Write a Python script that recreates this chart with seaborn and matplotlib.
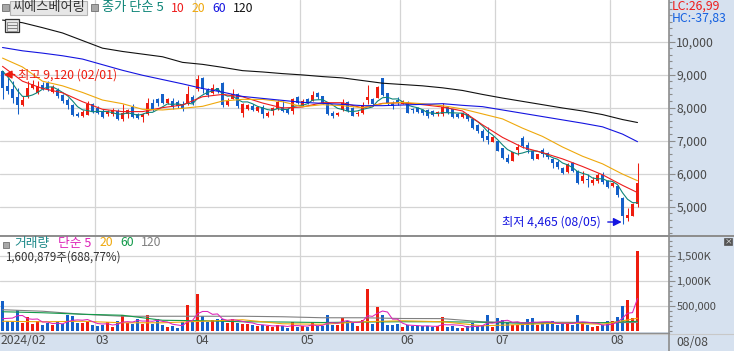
import numpy as np
import pandas as pd
import matplotlib
matplotlib.use("Agg")
import matplotlib.pyplot as plt
from matplotlib.patches import Rectangle
from matplotlib.ticker import FixedLocator, MultipleLocator, FuncFormatter
from matplotlib.transforms import ScaledTranslation
import seaborn as sns

sns.set_theme(style="white")
plt.rcParams['font.family'] = ['Noto Sans CJK KR', 'DejaVu Sans']

open_ = [9100,8670,8550,8330,8090,8350,8600,8430,8700,8750,8470,8530,8370,8230,8080,7820,7750,7780,8100,8000,
         7900,7800,7800,7900,7650,7800,8030,7800,7730,7800,8130,8250,8400,8130,8200,8170,8100,8100,8330,8550,
         8900,8530,8450,8600,8750,8070,8250,8420,7830,7950,8050,7900,8020,7750,7900,7950,8030,7950,7900,8330,
         8080,8270,8200,8440,8350,8150,7850,7770,7930,8170,8000,7820,7830,8230,8250,8300,8900,8430,8150,8230,
         8100,8170,7970,8000,7920,7920,7900,7800,7820,8030,7950,7820,7730,7800,7670,7490,7300,7150,6970,7000,
         6770,6480,6400,6720,7070,6880,6700,6460,6720,6620,6460,6360,6170,6060,6320,6090,5780,5840,5710,5790,
         5960,5790,5640,5640,5280,4660,4730,5080]
close = [8600,8500,8300,8070,8230,8600,8720,8670,8570,8550,8630,8350,8200,8070,7780,7750,7870,8100,7870,7850,
         7730,7870,7920,7650,7850,7920,7730,7700,7800,8130,7930,8130,8130,8250,8030,8050,7950,8400,8130,8870,
         8550,8370,8600,8500,8070,8200,8420,8050,8120,8080,7920,8030,7820,7850,7980,8170,7900,7840,8270,8130,
         8210,8150,8370,8330,8150,7820,7750,7850,8150,7900,7760,7850,8080,8320,8100,8630,8370,8150,8050,8130,
         8200,7850,7930,7880,7840,7750,7770,7870,8020,7830,7730,7730,7850,7650,7390,7280,7070,7030,7100,6700,
         6470,6360,6650,6810,6850,6710,6440,6590,6590,6500,6320,6200,6020,6310,6090,5720,5920,5810,5820,5960,
         5740,5590,5720,5350,4730,4750,5080,5710]
high = [9120,8900,8800,8600,8350,8800,8850,8800,8780,8800,8700,8600,8420,8280,8100,7870,7920,8200,8130,8050,
        7950,7920,7980,7950,8100,7970,8100,7850,7850,8300,8250,8300,8420,8300,8300,8220,8200,8650,8380,9000,
        8920,8580,8720,8560,8780,8280,8550,8440,8140,8120,8100,8050,8070,7890,8020,8230,8200,7990,8290,8350,
        8270,8290,8490,8470,8360,8170,7900,7870,8250,8210,8020,7900,8160,8700,8290,8640,8900,8450,8190,8330,
        8240,8200,8000,8030,7970,7950,7930,7890,8130,8050,7970,7840,7880,7820,7700,7500,7350,7420,7130,7020,
        6790,6600,6670,6900,7130,6970,6720,6600,6770,6670,6480,6420,6190,6330,6350,6110,6090,5990,5890,6020,
        6040,5800,5760,5660,5290,4950,5110,6320]
low = [8250,8400,8150,7800,8050,8300,8550,8400,8520,8500,8430,8300,8150,7950,7750,7720,7730,7770,7850,7800,
       7700,7750,7750,7620,7600,7700,7700,7650,7570,7780,7900,8050,8100,8100,7950,8000,7900,8070,8080,8500,
       8450,8320,8400,8450,8030,8050,8250,8000,7720,7920,7890,7870,7680,7720,7780,7920,7870,7820,7820,8100,
       8060,8120,8190,8250,8100,7790,7680,7740,7900,7880,7740,7750,7810,8100,8040,8280,8350,8090,7950,8080,
       8100,7830,7830,7850,7770,7700,7740,7740,7750,7800,7700,7700,7700,7600,7350,7240,7000,6900,6960,6680,
       6450,6340,6390,6570,6770,6630,6420,6450,6520,6440,6170,6130,6000,6030,6040,5680,5720,5610,5660,5720,
       5690,5560,5590,5310,4465,4580,4720,4980]

ma_idx = [0,4,8,12,16,20,24,28,32,36,40,44,48,52,56,60,64,68,72,76,80,84,88,92,96,100,104,108,112,116,120,124,127]
ma10 = [9250,8800,8580,8450,8180,7950,7880,7880,8000,8080,8330,8400,8330,8140,7990,8020,8150,8150,7990,8130,8150,8090,8020,7900,7480,7100,6800,6640,6450,6220,5970,5650,5430]
ma20 = [9500,9230,8800,8660,8460,8230,8120,7950,7930,7980,8040,8200,8250,8250,8180,8030,8090,8060,8000,8120,8160,8120,8060,7960,7810,7660,7380,7130,6810,6530,6300,5990,5790]
ma60 = [9820,9720,9650,9570,9470,9300,9130,8980,8850,8720,8580,8470,8340,8280,8220,8160,8130,8100,8060,8060,8080,8100,8120,8070,8030,7930,7830,7730,7630,7530,7420,7200,6970]
ma120 = [10650,10570,10420,10260,10030,9800,9700,9620,9540,9370,9310,9220,9120,9080,9030,8990,8940,8900,8820,8740,8700,8660,8600,8520,8400,8290,8190,8090,7990,7900,7790,7640,7550]
price_head = [9350,9300,9200,9100]

volume = [600,200,187,420,167,280,147,213,120,167,120,187,147,333,300,167,160,213,133,100,
          120,187,87,200,320,167,147,240,147,320,147,253,120,87,100,67,187,520,213,750,
          307,187,233,253,253,167,253,167,147,147,120,100,133,100,80,133,100,67,187,80,
          100,87,187,100,113,333,120,133,267,213,167,100,233,840,147,480,320,133,133,147,
          80,133,100,113,100,100,87,100,280,80,100,60,60,100,167,100,133,333,80,267,
          233,187,133,133,133,240,267,133,167,147,213,120,167,153,133,320,167,133,80,100,
          133,200,200,280,500,620,260,1601]
vol_head = [170,160,180,150]
vma_idx = [0,8,16,24,32,40,48,56,64,72,80,88,96,104,112,120,127]
vma20 = [200,190,200,170,170,200,230,150,140,190,210,190,110,135,165,140,260]
vma60 = [390,370,340,320,220,210,190,185,175,185,190,190,180,160,165,170,200]
vma120 = [430,400,340,300,300,300,300,290,270,270,255,253,190,173,180,173,175]

month_pos = [-0.5,18.5,38.5,59.5,79.5,98.5,121.5]
month_lab = ['2024/02','03','04','05','06','07','08']
last_date = '08/08'
price_ticks = [5000,6000,7000,8000,9000,10000]
vol_ticks = [500,1000,1500]

W, H = 734, 351
RED, BLUE = '#EE1C0E', '#1460C8'
GRID = '#D4D4D4'
PANEL = '#D6E1EF'
AXC = '#8C8C8C'
TXT = '#4A4A4A'
LW = 0.8

fig = plt.figure(figsize=(W/100, H/100), dpi=100, facecolor=PANEL)
def box(l, t, r, b):
    return [l/W, 1-b/H, (r-l)/W, (b-t)/H]
ax = fig.add_axes(box(0, 0, 669, 235))
av = fig.add_axes(box(0, 236, 669, 332))

n = len(close)
idx = np.arange(n)
op, cl, hi, lo = map(np.array, (open_, close, high, low))
up = cl >= op
colors = np.where(up, RED, BLUE)

# ---------- price
ax.vlines(idx, lo, hi, colors=colors, lw=0.75, zorder=3)
ax.bar(idx, np.abs(cl-op), bottom=np.minimum(op, cl), width=0.6, color=colors, lw=0, zorder=3)
ma5 = pd.Series(price_head + close).rolling(5).mean().dropna().values
sns.lineplot(x=idx, y=ma5, color='#0E8578', lw=0.8, ax=ax, errorbar=None, zorder=4)
sns.lineplot(x=ma_idx, y=ma10, color='#EE1C1C', lw=LW, ax=ax, errorbar=None, zorder=4)
sns.lineplot(x=ma_idx, y=ma20, color='#EFA80C', lw=LW, ax=ax, errorbar=None, zorder=4)
sns.lineplot(x=ma_idx, y=ma60, color='#1414E0', lw=LW, ax=ax, errorbar=None, zorder=4)
sns.lineplot(x=ma_idx, y=ma120, color='#111111', lw=LW, ax=ax, errorbar=None, zorder=4)
ax.set_xlim(-0.5, 133.3)
ax.set_ylim(5000-(235-206.8)/33.05*1000, 5000+206.8/33.05*1000)

# ---------- volume
vdf = pd.DataFrame({'i': idx, 'v': volume, 'up': up})
sns.barplot(data=vdf, x='i', y='v', hue='up', palette={True: RED, False: BLUE}, native_scale=True,
            dodge=False, legend=False, width=0.6, saturation=1, ax=av, zorder=3, lw=0)
vma5 = pd.Series(vol_head + volume).rolling(5).mean().dropna().values
sns.lineplot(x=vma_idx, y=vma120, color='#808080', lw=LW, ax=av, errorbar=None, zorder=4)
sns.lineplot(x=vma_idx, y=vma60, color='#139A4A', lw=LW, ax=av, errorbar=None, zorder=4)
sns.lineplot(x=vma_idx, y=vma20, color='#EFA80C', lw=LW, ax=av, errorbar=None, zorder=4)
sns.lineplot(x=idx, y=vma5, color='#DD22B8', lw=0.75, ax=av, errorbar=None, zorder=5)
av.set_xlim(-0.5, 133.3)
av.set_ylim(-14, 1900)

# ---------- axes styling
for a in (ax, av):
    a.set_facecolor('white')
    a.set_xlabel(''); a.set_ylabel('')
    a.grid(False)
    for x in month_pos[1:]:
        a.axvline(x, color=GRID, lw=0.9, zorder=1)
    a.yaxis.tick_right()
    for s in ('top', 'left', 'bottom'):
        a.spines[s].set_visible(False)
    a.spines['right'].set_color(AXC)
    a.spines['right'].set_linewidth(1.2)
for v in price_ticks:
    ax.axhline(v, color=GRID, lw=0.9, zorder=1)
for v in vol_ticks:
    av.axhline(v, color=GRID, lw=0.9, zorder=1)

ax.set_xticks([])
ax.yaxis.set_major_locator(FixedLocator(price_ticks))
ax.yaxis.set_minor_locator(MultipleLocator(200))
ax.yaxis.set_major_formatter(FuncFormatter(lambda v, p: f'{int(v):,}'))
ax.tick_params(axis='y', which='major', length=4, width=0.8, color=AXC, labelcolor=TXT, labelsize=8.8, pad=1.2)
ax.tick_params(axis='y', which='minor', length=2, width=0.8, color=AXC)

av.yaxis.set_major_locator(FixedLocator(vol_ticks))
av.yaxis.set_minor_locator(MultipleLocator(100))
av.yaxis.set_major_formatter(FuncFormatter(lambda v, p: '500,000' if v == 500 else f'{int(v):,}K'))
av.tick_params(axis='y', which='major', length=4, width=0.8, color=AXC, labelcolor=TXT, labelsize=8.0, pad=1.2)
av.tick_params(axis='y', which='minor', length=2, width=0.8, color=AXC)

av.set_xticks(month_pos)
av.set_xticklabels(month_lab, ha='left')
av.tick_params(axis='x', which='major', length=14, width=1, color=AXC, labelcolor=TXT, labelsize=8.8, pad=-12.5)
off = ScaledTranslation(0.005, 0, fig.dpi_scale_trans)
for lab in av.get_xticklabels():
    lab.set_transform(lab.get_transform() + off)

def T(x, y, s, color=TXT, size=8.8, **kw):
    return fig.text(x/W, 1-y/H, s, color=color, fontsize=size, va='center', ha=kw.pop('ha', 'left'), **kw)

# ---------- strip separators
fig.add_artist(plt.Line2D([0, 1], [1-235.5/H]*2, color=AXC, lw=1.4))
fig.add_artist(plt.Line2D([0, 669/W], [1-332.6/H]*2, color=AXC, lw=1))
fig.add_artist(plt.Line2D([0, 1], [1-333.6/H]*2, color='#C8C8C8', lw=0.8))
fig.add_artist(plt.Line2D([669/W]*2, [0, 1-333/H], color=AXC, lw=1.2))
T(676.5, 343, last_date)

# ---------- header, price panel
def sq(x, y, s=7):
    fig.add_artist(Rectangle((x/W, 1-(y+s)/H), s/W, s/H, transform=fig.transFigure, fc='#A8A8A8', ec='#707070', lw=0.6, zorder=6))
sq(2, 4); sq(91, 4); sq(3, 242, 6)
fig.add_artist(Rectangle((10/W, 1-15/H), 77/W, 14/H, transform=fig.transFigure, fc='#E6E6E6', ec='#B4B4B4', lw=0.8, zorder=6))
T(48.5, 8, '씨에스베어링', color='#333333', size=9.5, ha='center', zorder=7)
T(102, 8, '종가 단순 5', color='#0E8578', size=9.5, zorder=7)
T(171, 8, '10', color='#EE1C1C', size=8.8, zorder=7)
T(192, 8, '20', color='#EFA80C', size=8.8, zorder=7)
T(212, 8, '60', color='#1414E0', size=8.8, zorder=7)
T(233, 8, '120', color='#111111', size=8.8, zorder=7)
fig.add_artist(Rectangle((5/W, 1-32/H), 14/W, 13/H, transform=fig.transFigure, fc='#E8E8E8', ec='#333333', lw=0.9, zorder=6))
for y0 in (22, 25, 28):
    fig.add_artist(Rectangle((7/W, 1-(y0+3)/H), 10/W, 3/H, transform=fig.transFigure, fc='none', ec='#777777', lw=0.5, zorder=7))
T(671.5, 6, 'LC:26,99', color='#EE1C1C', size=8.8)
T(671.5, 18, 'HC:-37,83', color='#1460E0', size=8.8)

ax.annotate('', xy=(-0.3, 9000), xytext=(3.0, 9000), arrowprops=dict(arrowstyle='-|>', color=RED, lw=1.0, mutation_scale=12), zorder=7)
ax.text(3.2, 9000, '최고 9,120 (02/01)', color=RED, fontsize=8.8, va='center', zorder=7)
ax.annotate('', xy=(124.4, 4540), xytext=(120.5, 4540), arrowprops=dict(arrowstyle='-|>', color='#1414E0', lw=1.0, mutation_scale=12), zorder=7)
ax.text(119.6, 4540, '최저 4,465 (08/05)', color='#1414E0', fontsize=8.8, va='center', ha='right', zorder=7)

# ---------- volume header
T(14, 243, '거래량', color='#1E8A8A', size=9.2, zorder=7)
T(58, 243, '단순 5', color='#DD22B8', size=9.2, zorder=7)
T(100, 243, '20', color='#EFA80C', size=8.8, zorder=7)
T(120, 243, '60', color='#139A4A', size=8.8, zorder=7)
T(141, 243, '120', color='#808080', size=8.8, zorder=7)
T(5, 257, '1,600,879주(688,77%)', color='#333333', size=8.3, zorder=7)
fig.add_artist(Rectangle((724/W, 1-245/H), 8/W, 7/H, transform=fig.transFigure, fc='#555555', ec='#555555', lw=0.5, zorder=6))
T(728, 241.5, '×', color='white', size=5.5, ha='center', zorder=7)

fig.savefig('out.png', dpi=100, facecolor=fig.get_facecolor())
